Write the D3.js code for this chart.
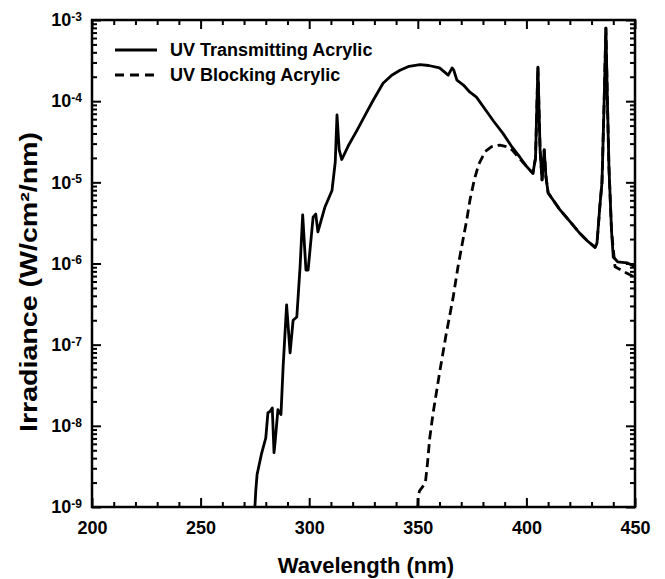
<!DOCTYPE html>
<html>
<head>
<meta charset="utf-8">
<script src="https://cdn.jsdelivr.net/npm/d3@7"></script>
<style>
  body { margin: 0; background: #fff; }
  svg { font-family: "Liberation Sans", Arial, sans-serif; font-weight: bold; }
</style>
</head>
<body>
<svg id="canvas"></svg>
<script>
// wavelength (nm) / irradiance (W/cm2/nm)
let transWave = [275.0, 275.4, 276, 278, 280, 281, 282, 283, 283.8, 284.3, 285.6, 287, 288, 289.6, 291.2, 292.6,
    294.3, 295.8, 297, 298.5, 299.5, 301.8, 303, 304, 307.3, 310.5, 312, 312.8, 313.8, 315, 318, 322, 326,
    329.4, 334, 338, 341.8, 346, 351, 355, 360, 364, 365.8, 366.6, 368, 371, 374, 377, 381.8, 385, 389.3,
    393, 397, 400, 403, 404.2, 405.3, 406.3, 407.2, 408.2, 409, 410, 415.5, 420, 424.7, 428, 431.6, 432.5,
    433.8, 434.8, 435.8, 436.6, 437.3, 438, 439.2, 440, 442, 446.3, 450];
let transIrr = [1.0e-9, 1.58e-9, 2.51e-9, 4.47e-9, 7.08e-9, 1.45e-8, 1.51e-8, 1.66e-8, 4.68e-9, 6.31e-9, 1.58e-8,
    1.38e-8, 5.37e-8, 3.09e-7, 7.94e-8, 2.0e-7, 2.19e-7, 9.12e-7, 3.98e-6, 8.32e-7, 8.32e-7, 3.72e-6, 4.07e-6,
    2.45e-6, 5.01e-6, 7.94e-6, 1.78e-5, 6.76e-5, 2.51e-5, 1.91e-5, 2.82e-5, 4.37e-5, 6.92e-5, 1.02e-4, 1.66e-4,
    2.09e-4, 2.40e-4, 2.69e-4, 2.82e-4, 2.75e-4, 2.57e-4, 2.09e-4, 2.57e-4, 2.40e-4, 1.82e-4, 1.58e-4, 1.29e-4,
    1.12e-4, 7.41e-5, 5.62e-5, 3.98e-5, 2.82e-5, 2.04e-5, 1.58e-5, 1.29e-5, 2.0e-5, 2.63e-4, 2.51e-5, 1.07e-5,
    2.51e-5, 1.17e-5, 7.41e-6, 4.57e-6, 3.31e-6, 2.34e-6, 1.91e-6, 1.58e-6, 1.78e-6, 5.01e-6, 1.0e-5, 1.0e-4,
    7.94e-4, 1.0e-4, 1.55e-5, 2.51e-6, 1.20e-6, 1.05e-6, 1.02e-6, 9.12e-7];

let blockWave = [350, 350.1, 350.8, 352, 353.5, 354.5, 355.5, 357, 360, 363, 366.2, 368.5, 370.5, 372.5, 374, 376,
    378, 381, 384, 387.8, 391, 393.4, 396, 400, 403, 404.2, 405.3, 406.3, 407.2, 408.2, 409, 410, 415.5, 420,
    424.7, 428, 431.6, 432.5, 433.8, 434.8, 435.8, 436.6, 437.3, 438, 439.2, 440.8, 446.3, 450];
let blockIrr = [1.0e-9, 1.32e-9, 1.58e-9, 1.74e-9, 2.0e-9, 3.55e-9, 7.08e-9, 1.41e-8, 4.47e-8, 1.32e-7, 3.72e-7,
    9.12e-7, 1.78e-6, 3.39e-6, 6.03e-6, 1.07e-5, 1.66e-5, 2.40e-5, 2.75e-5, 2.88e-5, 2.75e-5, 2.51e-5, 2.09e-5,
    1.58e-5, 1.29e-5, 2.0e-5, 2.63e-4, 2.51e-5, 1.07e-5, 2.51e-5, 1.17e-5, 7.41e-6, 4.57e-6, 3.31e-6, 2.34e-6,
    1.91e-6, 1.58e-6, 1.78e-6, 5.01e-6, 1.0e-5, 1.0e-4, 7.94e-4, 1.0e-4, 1.55e-5, 2.51e-6, 9.12e-7, 7.59e-7, 6.76e-7];

let xMajor = [200, 250, 300, 350, 400, 450];
let xMinor = [210, 220, 230, 240, 260, 270, 280, 290, 310, 320, 330, 340, 360, 370, 380, 390, 410, 420, 430, 440];
let yExponents = [-9, -8, -7, -6, -5, -4, -3];
let legendNames = ['UV Transmitting Acrylic', 'UV Blocking Acrylic'];

let chartW = 665;
let chartH = 579;
let plotLeft = 92, plotTop = 20, plotRight = 635, plotBottom = 507;

let canvas = d3.select('#canvas').attr('width', chartW).attr('height', chartH);

let xScale = d3.scaleLinear().domain([200, 450]).range([plotLeft, plotRight]);
let yScale = d3.scaleLog().domain([1e-9, 1e-3]).range([plotBottom, plotTop]);

let yMajor = yExponents.map((e) => Math.pow(10, e));
let yMinor = [];
yExponents.slice(0, -1).forEach((e) => {
    for (let k = 2; k <= 9; k++) yMinor.push(k * Math.pow(10, e));
});

// frame first, ticks on top of it
canvas.append('rect')
      .attr('x', plotLeft).attr('y', plotTop)
      .attr('width', plotRight - plotLeft).attr('height', plotBottom - plotTop)
      .attr('fill', 'none').attr('stroke', '#000').attr('stroke-width', 2.5);

// drop the axis path (the frame is drawn separately); each tick mark is
// redrawn as a thin filled bar inside the tick group the axis positioned
let tidy = (g) => {
    g.select('.domain').remove();
    g.selectAll('.tick').each(function () {
        let t = d3.select(this);
        let ln = t.select('line');
        let x2 = +ln.attr('x2') || 0;
        let y2 = +ln.attr('y2') || 0;
        ln.remove();
        t.append('rect')
         .attr('x', x2 === 0 ? -1 : Math.min(0, x2))
         .attr('y', y2 === 0 ? -1 : Math.min(0, y2))
         .attr('width', x2 === 0 ? 2 : Math.abs(x2))
         .attr('height', y2 === 0 ? 2 : Math.abs(y2))
         .attr('fill', '#000');
    });
};

let addAxis = (axis, tx, ty) => canvas.append('g')
    .attr('transform', 'translate(' + tx + ',' + ty + ')')
    .call(axis)
    .call(tidy);

// bottom
let xAxis = addAxis(d3.axisBottom(xScale).tickValues(xMajor).tickSize(-9).tickPadding(14).tickFormat(d3.format('d')), 0, plotBottom);
xAxis.selectAll('.tick text').attr('font-size', 18).attr('font-family', null).attr('fill', '#000');
addAxis(d3.axisBottom(xScale).tickValues(xMinor).tickSize(-5).tickFormat(() => ''), 0, plotBottom);
// top
addAxis(d3.axisTop(xScale).tickValues(xMajor).tickSize(-9).tickFormat(() => ''), 0, plotTop);
addAxis(d3.axisTop(xScale).tickValues(xMinor).tickSize(-5).tickFormat(() => ''), 0, plotTop);

// left
let yAxis = addAxis(d3.axisLeft(yScale).tickValues(yMajor).tickSize(-9).tickPadding(10).tickFormat(() => ''), plotLeft, 0);
yAxis.selectAll('.tick text')
     .attr('font-size', 18).attr('font-family', null).attr('fill', '#000')
     .each(function (d) {
         let t = d3.select(this);
         t.text('10');
         t.append('tspan').attr('dy', '-0.45em').attr('font-size', 12).text(Math.round(Math.log10(d)));
     });
addAxis(d3.axisLeft(yScale).tickValues(yMinor).tickSize(-5).tickFormat(() => ''), plotLeft, 0);
// right
addAxis(d3.axisRight(yScale).tickValues(yMajor).tickSize(-9).tickFormat(() => ''), plotRight, 0);
addAxis(d3.axisRight(yScale).tickValues(yMinor).tickSize(-5).tickFormat(() => ''), plotRight, 0);

let lineGen = d3.line().x((d) => xScale(d[0])).y((d) => yScale(d[1]));

canvas.append('path')
      .datum(blockWave.map((w, i) => [w, blockIrr[i]]))
      .attr('d', lineGen)
      .attr('fill', 'none').attr('stroke', '#000').attr('stroke-width', 2.8)
      .attr('stroke-dasharray', '9,5').attr('stroke-linejoin', 'round');

canvas.append('path')
      .datum(transWave.map((w, i) => [w, transIrr[i]]))
      .attr('d', lineGen)
      .attr('fill', 'none').attr('stroke', '#000').attr('stroke-width', 2.8)
      .attr('stroke-linejoin', 'round');

// legend
let legend = canvas.append('g');
legendNames.forEach((name, i) => {
    let ly = 50 + i * 25;
    legend.append('line')
          .attr('x1', 115).attr('x2', 157).attr('y1', ly).attr('y2', ly)
          .attr('stroke', '#000').attr('stroke-width', 2.8)
          .attr('stroke-dasharray', i === 1 ? '9,6' : null);
    legend.append('text')
          .attr('x', 170).attr('y', ly).attr('dy', '0.35em')
          .attr('font-size', 18).text(name);
});

// axis titles
canvas.append('text')
      .attr('x', 366).attr('y', 573)
      .attr('text-anchor', 'middle').attr('font-size', 22)
      .text('Wavelength (nm)');
canvas.append('text')
      .attr('transform', 'translate(37,282) rotate(-90)')
      .attr('text-anchor', 'middle').attr('font-size', 23)
      .attr('textLength', 300).attr('lengthAdjust', 'spacingAndGlyphs')
      .text('Irradiance (W/cm²/nm)');
</script>
</body>
</html>
